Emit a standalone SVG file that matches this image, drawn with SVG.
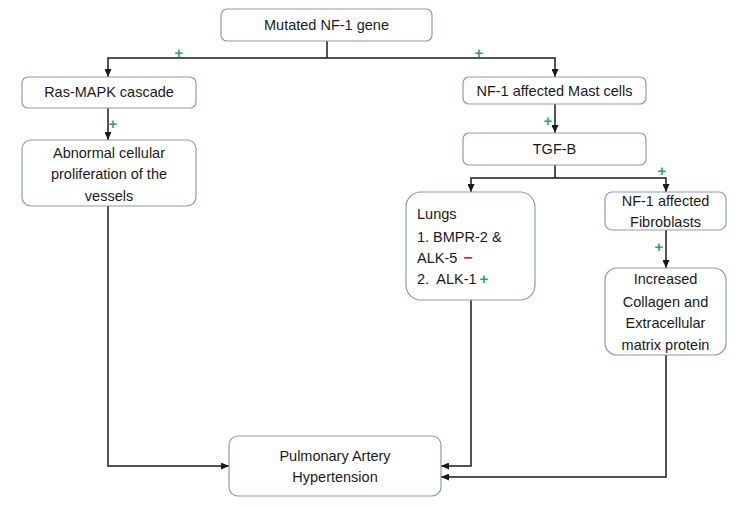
<svg xmlns="http://www.w3.org/2000/svg" width="750" height="507" viewBox="0 0 750 507">
<style>
.box{fill:#ffffff;stroke:#8a9bb3;stroke-width:1.2}
.t{font-family:"Liberation Sans",Arial,sans-serif;font-size:14.5px;fill:#1a1a1a;text-anchor:middle}
.tl{font-family:"Liberation Sans",Arial,sans-serif;font-size:14.5px;fill:#1a1a1a}
.p{font-family:"Liberation Sans",Arial,sans-serif;font-size:15px;font-weight:bold;fill:#2ea866;text-anchor:middle}
.m{font-family:"Liberation Sans",Arial,sans-serif;font-size:16px;font-weight:bold;fill:#c0392b;text-anchor:middle}
.c{fill:none;stroke:#1a1a1a;stroke-width:1.5}
</style>
<defs>
<marker id="ah" markerUnits="userSpaceOnUse" markerWidth="8" markerHeight="7" refX="8" refY="3.5" orient="auto">
<path d="M0,0 L8,3.5 L0,7 z" fill="#1a1a1a"/>
</marker>
</defs>
<rect width="750" height="507" fill="#ffffff"/>
<g id="connectors">
<path class="c" d="M327,41 V58"/>
<path class="c" d="M327,58 H108 V77" marker-end="url(#ah)"/>
<path class="c" d="M327,58 H555 V77" marker-end="url(#ah)"/>
<path class="c" d="M108,108 V140" marker-end="url(#ah)"/>
<path class="c" d="M555,104 V133" marker-end="url(#ah)"/>
<path class="c" d="M555,165 V178"/>
<path class="c" d="M555,178 H471 V192" marker-end="url(#ah)"/>
<path class="c" d="M555,178 H666 V192" marker-end="url(#ah)"/>
<path class="c" d="M666,230 V268" marker-end="url(#ah)"/>
<path class="c" d="M108,206 V466 H229" marker-end="url(#ah)"/>
<path class="c" d="M471,300 V466 H441" marker-end="url(#ah)"/>
<path class="c" d="M666,355 V477 H441" marker-end="url(#ah)"/>
<text class="p" x="179" y="58">+</text>
<text class="p" x="479" y="58">+</text>
<text class="p" x="113" y="129">+</text>
<text class="p" x="548" y="126">+</text>
<text class="p" x="662" y="176">+</text>
<text class="p" x="659" y="252">+</text>
</g>
<g id="n-mutated">
<rect class="box" x="221" y="9" width="211" height="32" rx="6"/>
<text class="t" x="326.5" y="30">Mutated NF-1 gene</text>
</g>
<g id="n-rasmapk">
<rect class="box" x="22" y="77" width="174" height="31" rx="6"/>
<text class="t" x="109" y="97">Ras-MAPK cascade</text>
</g>
<g id="n-abnormal">
<rect class="box" x="22" y="140" width="174" height="66" rx="9"/>
<text class="t" x="109" y="158">Abnormal cellular</text>
<text class="t" x="109" y="179">proliferation of the</text>
<text class="t" x="109" y="201">vessels</text>
</g>
<g id="n-mast">
<rect class="box" x="463" y="77" width="183" height="27" rx="6"/>
<text class="t" x="554.5" y="96">NF-1 affected Mast cells</text>
</g>
<g id="n-tgfb">
<rect class="box" x="463" y="133" width="183" height="32" rx="6"/>
<text class="t" x="554.5" y="154">TGF-B</text>
</g>
<g id="n-lungs">
<rect class="box" x="406" y="192" width="129" height="108" rx="15"/>
<text class="tl" x="417" y="219">Lungs</text>
<text class="tl" x="417" y="242">1. BMPR-2 &amp;</text>
<text class="tl" x="417" y="263">ALK-5</text>
<text class="m" x="468" y="263">−</text>
<text class="tl" x="417" y="284" xml:space="preserve">2.  ALK-1</text>
<text class="p" x="484" y="284">+</text>
</g>
<g id="n-fibro">
<rect class="box" x="605" y="192" width="121" height="38" rx="7"/>
<text class="t" x="665.5" y="206">NF-1 affected</text>
<text class="t" x="665.5" y="227">Fibroblasts</text>
</g>
<g id="n-collagen">
<rect class="box" x="605" y="268" width="121" height="87" rx="12"/>
<text class="t" x="665.5" y="284">Increased</text>
<text class="t" x="665.5" y="307">Collagen and</text>
<text class="t" x="665.5" y="328">Extracellular</text>
<text class="t" x="665.5" y="350">matrix protein</text>
</g>
<g id="n-pah">
<rect class="box" x="229" y="436" width="212" height="60" rx="9"/>
<text class="t" x="335" y="461">Pulmonary Artery</text>
<text class="t" x="335" y="482">Hypertension</text>
</g>
</svg>
